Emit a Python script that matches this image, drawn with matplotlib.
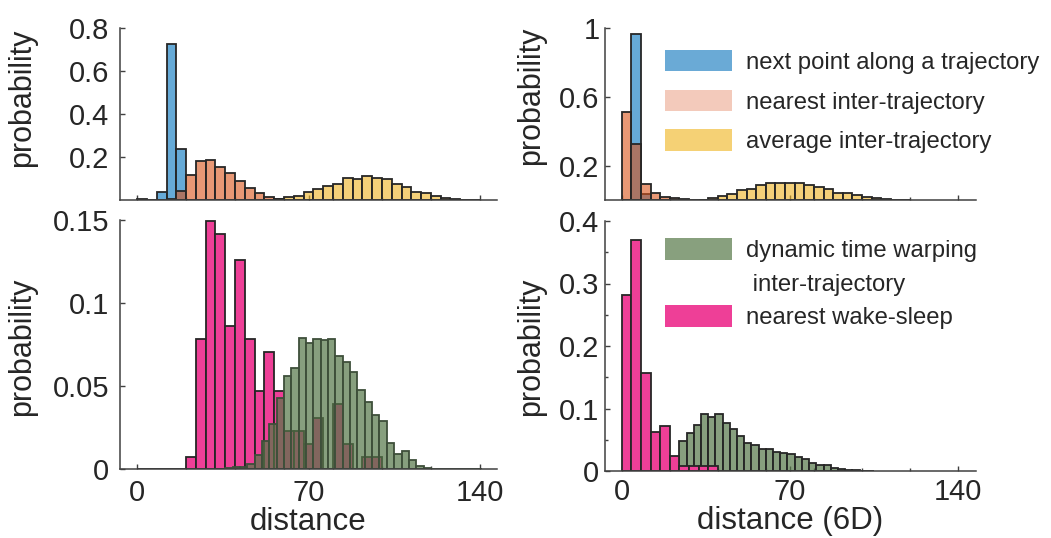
import numpy as np
import matplotlib
matplotlib.use("Agg")
import matplotlib.pyplot as plt
from matplotlib.patches import Patch
from matplotlib.ticker import MultipleLocator

plt.rcParams['font.family'] = ['Liberation Sans', 'DejaVu Sans']

# ---- data (probabilities per bin) ----
# top row: 3D distance, bins of width 4
bin4 = 4
tl_next_start = 0
tl_next = [0.004, 0.0, 0.039, 0.726, 0.236]
tl_nearest_start = 12
tl_nearest = [0.006, 0.043, 0.116, 0.181, 0.186, 0.152, 0.124, 0.088, 0.056,
              0.031, 0.015, 0.006]
tl_average_start = 56
tl_average = [0.003, 0.012, 0.020, 0.039, 0.053, 0.067, 0.076, 0.104, 0.098,
              0.110, 0.104, 0.099, 0.076, 0.060, 0.039, 0.031, 0.017, 0.008,
              0.004, 0.0015, 0.001]

# top right: 6D distance
tr_next_start = 0
tr_next = [0.0, 0.965, 0.035]
tr_nearest_start = 0
tr_nearest = [0.51, 0.325, 0.095, 0.043, 0.019, 0.009, 0.004, 0.002, 0.001]
tr_average_start = 32
tr_average = [0.001, 0.010, 0.023, 0.037, 0.056, 0.066, 0.085, 0.099, 0.097,
              0.099, 0.097, 0.085, 0.076, 0.064, 0.041, 0.039, 0.027, 0.017,
              0.010, 0.004, 0.002, 0.001]

# bottom row: wake-sleep (width 4) and DTW (width 3)
bin3 = 3
bl_wake_start = 0
bl_wake = [0, 0, 0, 0, 0, 0.0074, 0.0783, 0.1494, 0.1418, 0.0864, 0.1257,
           0.0783, 0.0468, 0.0705, 0.0468, 0.023, 0.0229, 0.0151, 0.0309, 0,
           0.039, 0.0151, 0, 0.0074, 0.0074]
bl_dtw_start = 36
bl_dtw = [0.0005, 0.001, 0.0015, 0.003, 0.0084, 0.017, 0.027, 0.0425, 0.056,
          0.061, 0.079, 0.0757, 0.0783, 0.0777, 0.0783, 0.0683, 0.0647, 0.0586,
          0.0476, 0.0402, 0.0325, 0.0289, 0.0159, 0.009, 0.0108, 0.0052, 0.002,
          0.0008, 0, 0, 0, 0, 0, 0, 0]

br_wake_start = 0
br_wake = [0.282, 0.369, 0.157, 0.0624, 0.0715, 0.0235, 0.008, 0.008, 0.008, 0.008]
br_dtw_start = 24
br_dtw = [0.048, 0.061, 0.073, 0.092, 0.087, 0.092, 0.077, 0.068, 0.056, 0.045,
          0.041, 0.036, 0.035, 0.031, 0.029, 0.027, 0.022, 0.019, 0.013, 0.009,
          0.009, 0.0055, 0.003, 0.0015, 0.001, 0.0005, 0.0003]

labels_top = ['next point along a trajectory', 'nearest inter-trajectory',
              'average inter-trajectory']
labels_bottom = ['dynamic time warping', ' inter-trajectory', 'nearest wake-sleep']

# colours (matlab defaults with face alpha)
c_blue = (0.0, 0.447, 0.741)
c_orange = (0.85, 0.325, 0.098)
c_yellow = (0.929, 0.694, 0.125)
c_green = (0.333, 0.467, 0.277)
c_pink = '#ee3f97'
txt = '#262626'
axc = '#404040'


def hist(ax, start, width, vals, color, alpha=0.6, edge='#262626', z=2):
    left = start + width * np.arange(len(vals))
    ax.bar(left, vals, width=width, align='edge',
           facecolor=matplotlib.colors.to_rgba(color, alpha),
           edgecolor=edge, linewidth=1.3, zorder=z)


W, H = 1051, 538
fig = plt.figure(figsize=(W / 100, H / 100), dpi=100)


def add_ax(l, r, t, b):
    return fig.add_axes([l / W, 1 - b / H, (r - l) / W, (b - t) / H])


ax_tl = add_ax(120, 497, 28, 200)
ax_bl = add_ax(120, 497, 220, 469)
ax_tr = add_ax(605, 976, 28, 200)
ax_br = add_ax(605, 976, 221, 471)

hist(ax_tl, tl_next_start, bin4, tl_next, c_blue)
hist(ax_tl, tl_nearest_start, bin4, tl_nearest, c_orange)
hist(ax_tl, tl_average_start, bin4, tl_average, c_yellow)

hist(ax_tr, tr_next_start, bin4, tr_next, c_blue)
hist(ax_tr, tr_nearest_start, bin4, tr_nearest, c_orange)
hist(ax_tr, tr_average_start, bin4, tr_average, c_yellow)

hist(ax_bl, bl_wake_start, bin4, bl_wake, c_pink, alpha=1.0)
hist(ax_bl, bl_dtw_start, bin3, bl_dtw, c_green, alpha=0.7, edge='#3e4f3a')

hist(ax_br, br_dtw_start, bin3, br_dtw, c_green, alpha=0.7)
hist(ax_br, br_wake_start, bin4, br_wake, c_pink, alpha=1.0)

for ax in (ax_tl, ax_bl, ax_tr, ax_br):
    for s in ('top', 'right'):
        ax.spines[s].set_visible(False)
    for s in ('left', 'bottom'):
        ax.spines[s].set_color(axc)
        ax.spines[s].set_linewidth(1.1)
    ax.set_axisbelow(True)
    ax.set_xticks([0, 70, 140])
    ax.xaxis.set_minor_locator(MultipleLocator(20))
    ax.tick_params(which='both', direction='in', color=axc, width=1.0,
                   labelsize=21, labelcolor=txt)
    ax.tick_params(which='major', length=3.5)
    ax.tick_params(which='minor', length=2.5)

ax_tl.set_xlim(-7, 147)
ax_bl.set_xlim(-7, 147)
ax_tr.set_xlim(-7, 147.5)
ax_br.set_xlim(-7, 147.5)

ax_tl.set_ylim(0, 0.8)
ax_tl.set_yticks([0.2, 0.4, 0.6, 0.8], ['0.2', '0.4', '0.6', '0.8'])
ax_tr.set_ylim(0, 1)
ax_tr.set_yticks([0.2, 0.6, 1.0], ['0.2', '0.6', '1'])
ax_bl.set_ylim(0, 0.15)
ax_bl.set_yticks([0, 0.05, 0.1, 0.15], ['0', '0.05', '0.1', '0.15'])
ax_br.set_ylim(0, 0.4)
ax_br.set_yticks([0, 0.1, 0.2, 0.3, 0.4], ['0', '0.1', '0.2', '0.3', '0.4'])
ax_br.yaxis.set_minor_locator(MultipleLocator(0.05))

for ax in (ax_tl, ax_tr):
    ax.tick_params(axis='x', labelbottom=False)

ax_tl.tick_params(axis='y', pad=8)
ax_bl.tick_params(axis='y', pad=8)
ax_bl.tick_params(axis='x', pad=7)
ax_tr.tick_params(axis='y', pad=4)
ax_br.tick_params(axis='y', pad=4)
ax_br.tick_params(axis='x', pad=5)

ax_bl.set_xlabel('distance', fontsize=22.5, color=txt, labelpad=0)
ax_br.set_xlabel('distance (6D)', fontsize=22.5, color=txt, labelpad=0)

for ax, x, y in ((ax_tl, -0.220, 0.593), (ax_bl, -0.220, 0.49),
                 (ax_tr, -0.160, 0.605), (ax_br, -0.158, 0.497)):
    ax.set_ylabel('probability', fontsize=22, color=txt)
    ax.yaxis.set_label_coords(x, y)

# legends
leg_top = [Patch(facecolor='#6aaad6', edgecolor='none'),
           Patch(facecolor='#f3cabb', edgecolor='none'),
           Patch(facecolor='#f5d175', edgecolor='none')]
ax_tr.legend(leg_top, labels_top, loc='upper left', bbox_to_anchor=(0.162, 0.872),
             frameon=False, fontsize=17.2, handlelength=2.8, handleheight=1.0,
             handletextpad=0.6, labelspacing=0.66, borderpad=0, borderaxespad=0,
             labelcolor=txt)

leg_bot = [Patch(facecolor='#88a07e', edgecolor='none'),
           Patch(facecolor='none', edgecolor='none'),
           Patch(facecolor=c_pink, edgecolor='none')]
ax_br.legend(leg_bot, labels_bottom, loc='upper left', bbox_to_anchor=(0.162, 0.93),
             frameon=False, fontsize=17.2, handlelength=2.8, handleheight=1.0,
             handletextpad=0.6, labelspacing=0.4, borderpad=0, borderaxespad=0,
             labelcolor=txt)

fig.savefig('out.png', dpi=100)
